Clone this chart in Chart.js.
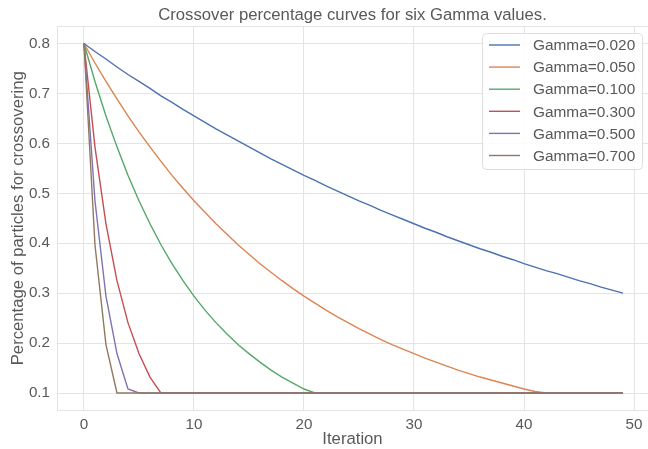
<!DOCTYPE html>
<html>
<head>
<meta charset="utf-8">
<script src="https://cdn.jsdelivr.net/npm/chart.js@4.4.0/dist/chart.umd.min.js"></script>
<style>
  html, body { margin: 0; padding: 0; background: #fff; }
  canvas { display: block; }
</style>
</head>
<body>
<canvas id="myChart1" width="648" height="449"></canvas>
<script>
var iterations = [
  0, 1, 2, 3, 4, 5, 6, 7, 8, 9,
  10, 11, 12, 13, 14, 15, 16, 17, 18, 19,
  20, 21, 22, 23, 24, 25, 26, 27, 28, 29,
  30, 31, 32, 33, 34, 35, 36, 37, 38, 39,
  40, 41, 42, 43, 44, 45, 46, 47, 48, 49
];
var gammaLabels = ['Gamma=0.020', 'Gamma=0.050', 'Gamma=0.100', 'Gamma=0.300', 'Gamma=0.500', 'Gamma=0.700'];

var gamma020 = [
  0.800, 0.784, 0.769, 0.753, 0.738, 0.724, 0.710, 0.695, 0.682, 0.668,
  0.655, 0.642, 0.629, 0.617, 0.605, 0.593, 0.581, 0.569, 0.558, 0.547,
  0.536, 0.526, 0.515, 0.505, 0.495, 0.485, 0.476, 0.466, 0.457, 0.448,
  0.439, 0.430, 0.422, 0.413, 0.405, 0.397, 0.389, 0.382, 0.374, 0.367,
  0.359, 0.352, 0.345, 0.339, 0.332, 0.325, 0.319, 0.312, 0.306, 0.300
];
var gamma050 = [
  0.800, 0.761, 0.724, 0.689, 0.655, 0.623, 0.593, 0.564, 0.536, 0.510,
  0.485, 0.462, 0.439, 0.418, 0.397, 0.378, 0.359, 0.342, 0.325, 0.309,
  0.294, 0.280, 0.266, 0.253, 0.241, 0.229, 0.218, 0.207, 0.197, 0.188,
  0.179, 0.170, 0.162, 0.154, 0.146, 0.139, 0.132, 0.126, 0.120, 0.114,
  0.108, 0.103, 0.1, 0.1, 0.1, 0.1, 0.1, 0.1, 0.1, 0.1
];
var gamma100 = [
  0.800, 0.724, 0.655, 0.593, 0.536, 0.485, 0.439, 0.397, 0.359, 0.325,
  0.294, 0.266, 0.241, 0.218, 0.197, 0.179, 0.162, 0.146, 0.132, 0.120,
  0.108, 0.1, 0.1, 0.1, 0.1, 0.1, 0.1, 0.1, 0.1, 0.1,
  0.1, 0.1, 0.1, 0.1, 0.1, 0.1, 0.1, 0.1, 0.1, 0.1,
  0.1, 0.1, 0.1, 0.1, 0.1, 0.1, 0.1, 0.1, 0.1, 0.1
];
var gamma300 = [
  0.800, 0.593, 0.439, 0.325, 0.241, 0.179, 0.132, 0.1, 0.1, 0.1,
  0.1, 0.1, 0.1, 0.1, 0.1, 0.1, 0.1, 0.1, 0.1, 0.1,
  0.1, 0.1, 0.1, 0.1, 0.1, 0.1, 0.1, 0.1, 0.1, 0.1,
  0.1, 0.1, 0.1, 0.1, 0.1, 0.1, 0.1, 0.1, 0.1, 0.1,
  0.1, 0.1, 0.1, 0.1, 0.1, 0.1, 0.1, 0.1, 0.1, 0.1
];
var gamma500 = [
  0.800, 0.485, 0.294, 0.179, 0.108, 0.1, 0.1, 0.1, 0.1, 0.1,
  0.1, 0.1, 0.1, 0.1, 0.1, 0.1, 0.1, 0.1, 0.1, 0.1,
  0.1, 0.1, 0.1, 0.1, 0.1, 0.1, 0.1, 0.1, 0.1, 0.1,
  0.1, 0.1, 0.1, 0.1, 0.1, 0.1, 0.1, 0.1, 0.1, 0.1,
  0.1, 0.1, 0.1, 0.1, 0.1, 0.1, 0.1, 0.1, 0.1, 0.1
];
var gamma700 = [
  0.800, 0.397, 0.197, 0.1, 0.1, 0.1, 0.1, 0.1, 0.1, 0.1,
  0.1, 0.1, 0.1, 0.1, 0.1, 0.1, 0.1, 0.1, 0.1, 0.1,
  0.1, 0.1, 0.1, 0.1, 0.1, 0.1, 0.1, 0.1, 0.1, 0.1,
  0.1, 0.1, 0.1, 0.1, 0.1, 0.1, 0.1, 0.1, 0.1, 0.1,
  0.1, 0.1, 0.1, 0.1, 0.1, 0.1, 0.1, 0.1, 0.1, 0.1
];

var xTicks = [0, 10, 20, 30, 40, 50];
var yTicks = [0.1, 0.2, 0.3, 0.4, 0.5, 0.6, 0.7, 0.8];

// seaborn "deep" palette
var colors = ['#4c72b0', '#dd8452', '#55a868', '#c44e52', '#8172b3', '#937860'];
var textColor = '#595959';
var gridColor = '#e4e4e4';
var fontFamily = '"Liberation Sans", Arial, sans-serif';

var allSeries = [gamma020, gamma050, gamma100, gamma300, gamma500, gamma700];

// legend drawn inside the plot, top right, like matplotlib's
var legendBox = {
  id: 'legendBox',
  beforeDatasetsDraw: function(chart) {
    // top spine
    var ctx = chart.ctx, a = chart.chartArea;
    ctx.save();
    ctx.strokeStyle = gridColor;
    ctx.lineWidth = 1;
    ctx.beginPath();
    ctx.moveTo(a.left, Math.round(a.top) + 0.5);
    ctx.lineTo(a.right, Math.round(a.top) + 0.5);
    ctx.stroke();
    ctx.restore();
  },
  afterDraw: function(chart) {
    var ctx = chart.ctx;
    ctx.save();
    ctx.beginPath();
    ctx.roundRect(482.5, 33.5, 160, 136, 4);
    ctx.fillStyle = 'rgba(255,255,255,0.85)';
    ctx.fill();
    ctx.strokeStyle = '#dedede';
    ctx.lineWidth = 1;
    ctx.stroke();
    ctx.font = '15.4px ' + fontFamily;
    ctx.textBaseline = 'middle';
    ctx.textAlign = 'left';
    gammaLabels.forEach(function(lab, i) {
      var y = 45 + i * 22.1;
      ctx.strokeStyle = colors[i];
      ctx.lineWidth = 1.4;
      ctx.beginPath();
      ctx.moveTo(489, y);
      ctx.lineTo(520, y);
      ctx.stroke();
      ctx.fillStyle = textColor;
      ctx.fillText(lab, 533, y + 1);
    });
    ctx.restore();
  }
};

var ctx = document.getElementById('myChart1').getContext('2d');
var chart = new Chart(ctx, {
  type: 'line',
  data: {
    datasets: allSeries.map(function(series, i) {
      return {
        label: gammaLabels[i],
        data: series.map(function(v, k) { return { x: iterations[k], y: v }; }),
        borderColor: colors[i],
        backgroundColor: colors[i],
        borderWidth: 1.4,
        pointRadius: 0,
        tension: 0,
        fill: false,
        // later series on top, as matplotlib draws them
        order: allSeries.length - i
      };
    })
  },
  options: {
    responsive: false,
    animation: false,
    layout: { padding: 0 },
    plugins: {
      legend: { display: false },
      tooltip: { enabled: false },
      title: {
        display: true,
        fullSize: false, // centre over the plot area, not the canvas
        text: 'Crossover percentage curves for six Gamma values.',
        color: textColor,
        font: { family: fontFamily, size: 16.7, weight: 'normal', lineHeight: 1.2 },
        padding: { top: 5, bottom: 1 }
      }
    },
    scales: {
      x: {
        type: 'linear',
        min: -2.45,
        max: 51.27,
        afterBuildTicks: function(s) { s.ticks = xTicks.map(function(v) { return { value: v }; }); },
        afterFit: function(s) { s.height = 38.5; },
        grid: { color: gridColor, lineWidth: 1, drawTicks: false },
        border: { color: gridColor, width: 1 },
        ticks: {
          color: textColor,
          font: { family: fontFamily, size: 15.2 },
          padding: 5,
          maxRotation: 0,
          callback: function(v) { return String(v); }
        },
        title: {
          display: true,
          text: 'Iteration',
          color: textColor,
          font: { family: fontFamily, size: 16.7, lineHeight: 1.2 },
          padding: { top: 0, bottom: 0 }
        }
      },
      y: {
        type: 'linear',
        min: 0.065,
        max: 0.835,
        afterBuildTicks: function(s) { s.ticks = yTicks.map(function(v) { return { value: v }; }); },
        afterFit: function(s) { s.width = 57; },
        grid: { color: gridColor, lineWidth: 1, drawTicks: false },
        border: { color: gridColor, width: 1 },
        ticks: {
          color: textColor,
          font: { family: fontFamily, size: 15.2 },
          padding: 7,
          callback: function(v) { return Number(v).toFixed(1); }
        },
        title: {
          display: true,
          text: 'Percentage of particles for crossovering',
          color: textColor,
          font: { family: fontFamily, size: 16.7, lineHeight: 1.2 },
          padding: { top: 8, bottom: 0 }
        }
      }
    }
  },
  plugins: [legendBox]
});
</script>
</body>
</html>
